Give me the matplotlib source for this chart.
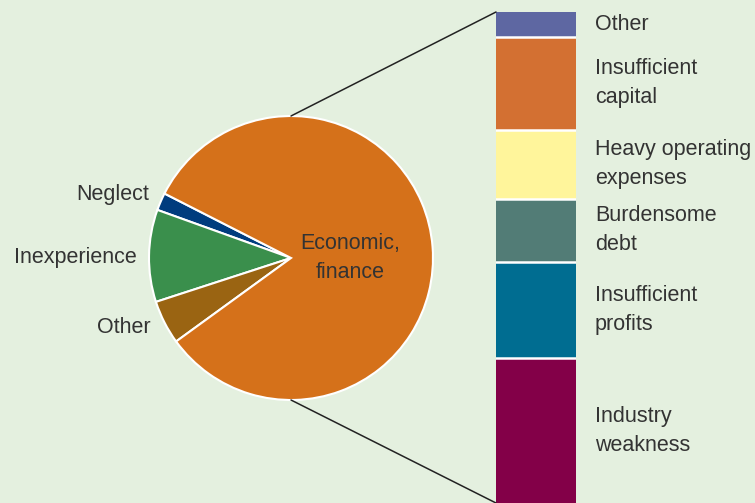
import numpy as np
import matplotlib.pyplot as plt
from matplotlib.patches import ConnectionPatch

plt.rcParams['font.family'] = ['Liberation Sans', 'DejaVu Sans']

bg = '#e4f0df'
txt = '#333333'

# pie: causes of failure
pie_labels = ['Neglect', 'Inexperience', 'Other', 'Economic,\nfinance']
pie_values = [2, 10.5, 5, 82.5]
pie_colors = ['#003c7e', '#3a8f4c', '#9a6412', '#d5711a']

# bar: breakdown of economic/finance causes, top to bottom
bar_labels = ['Other', 'Insufficient\ncapital', 'Heavy operating\nexpenses',
              'Burdensome\ndebt', 'Insufficient\nprofits', 'Industry\nweakness']
bar_values = [5, 19, 14, 13, 19.5, 29.5]
bar_colors = ['#5e67a2', '#d37032', '#fff59b', '#527c76', '#006d91', '#830048']

W, H = 755, 503
fig = plt.figure(figsize=(W / 100, H / 100), dpi=100, facecolor=bg)

# pie axes, centred at (291, 258) px with radius 142 px
cx, cy, r = 291, 258, 142
ax1 = fig.add_axes([(cx - r) / W, (H - cy - r) / H, 2 * r / W, 2 * r / H])
ax1.set_facecolor('none')
ax1.pie(pie_values, colors=pie_colors, startangle=153, counterclock=True,
        radius=1, wedgeprops=dict(edgecolor='white', linewidth=1.5))
ax1.set_xlim(-1, 1)
ax1.set_ylim(-1, 1)
ax1.axis('off')

fs = 15.5
ls = 1.5
ax1.text(-1.0, 0.45, pie_labels[0], ha='right', va='center', fontsize=fs, color=txt)
ax1.text(-1.085, 0.007, pie_labels[1], ha='right', va='center', fontsize=fs, color=txt)
ax1.text(-0.986, -0.486, pie_labels[2], ha='right', va='center', fontsize=fs, color=txt)
ax1.text(0.415, 0.0, pie_labels[3], ha='center', va='center', fontsize=fs,
         color=txt, linespacing=ls)

# stacked bar, 80 px wide, from y=12 px down to the bottom edge
bx, btop = 496, 12
ax2 = fig.add_axes([bx / W, 0, 80 / W, (H - btop) / H])
ax2.set_facecolor('none')
bottoms = np.concatenate([[0], np.cumsum(bar_values)[:-1]])
total = sum(bar_values)
ax2.bar(0, bar_values, bottom=bottoms, width=1, color=bar_colors, edgecolor='none')
ax2.set_xlim(-0.5, 0.5)
ax2.set_ylim(total, 0)
ax2.axis('off')
for b in bottoms[1:]:
    ax2.axhline(b, color='white', linewidth=1.8)
for lab, b, v in zip(bar_labels, bottoms, bar_values):
    ax2.text(0.7375, b + v / 2, lab, ha='left', va='center', fontsize=fs,
             color=txt, linespacing=ls, clip_on=False)

# connector lines from the pie to the bar
for ypie, ybar in [(1, 0), (-1, total)]:
    con = ConnectionPatch(xyA=(-0.5, ybar), coordsA=ax2.transData,
                          xyB=(0, ypie), coordsB=ax1.transData,
                          color='#222222', linewidth=1.1)
    fig.add_artist(con)

fig.savefig('out.png', dpi=100, facecolor=bg)
